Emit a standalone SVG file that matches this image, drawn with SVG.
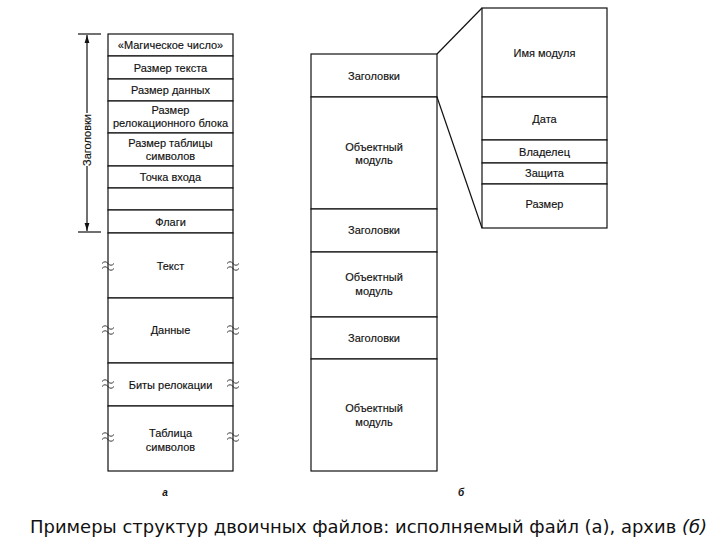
<svg xmlns="http://www.w3.org/2000/svg" width="720" height="540" viewBox="0 0 720 540">
<style>
.b{fill:#fff;stroke:#111;stroke-width:1.2}
.t{font-family:"Liberation Sans",Arial,sans-serif;font-size:11px;fill:#111;text-anchor:middle;stroke:#111;stroke-width:0.15}
.ln{stroke:#111;stroke-width:1.2;fill:none}
.w{stroke:#222;stroke-width:0.9;fill:none}
.lab{font-family:"Liberation Sans",Arial,sans-serif;font-size:10px;font-style:italic;font-weight:bold;fill:#111;text-anchor:middle}
</style>
<defs>
<marker id="ar" viewBox="0 0 10 10" refX="10" refY="5" markerWidth="8" markerHeight="8" orient="auto-start-reverse" markerUnits="userSpaceOnUse">
<path d="M0,2 L10,5 L0,8 Z" fill="#111"/>
</marker>
<path id="tl" d="M-6,-2.5 q3,-3.5 6,0 t6,0 M-6,2.5 q3,-3.5 6,0 t6,0"/>
</defs>
<rect width="720" height="540" fill="#fff"/>

<g id="exe">
<g id="a-magic"><rect class="b" x="108" y="34" width="125" height="22"/><text class="t" x="170.5" y="49">«Магическое число»</text></g>
<g id="a-textsize"><rect class="b" x="108" y="56" width="125" height="23"/><text class="t" x="170.5" y="72">Размер текста</text></g>
<g id="a-datasize"><rect class="b" x="108" y="79" width="125" height="22"/><text class="t" x="170.5" y="94">Размер данных</text></g>
<g id="a-relocsize"><rect class="b" x="108" y="101" width="125" height="32"/><text class="t" x="170.5" y="114">Размер</text><text class="t" x="170.5" y="127">релокационного блока</text></g>
<g id="a-symsize"><rect class="b" x="108" y="133" width="125" height="33"/><text class="t" x="170.5" y="147">Размер таблицы</text><text class="t" x="170.5" y="160">символов</text></g>
<g id="a-entry"><rect class="b" x="108" y="166" width="125" height="22"/><text class="t" x="170.5" y="181">Точка входа</text></g>
<g id="a-empty"><rect class="b" x="108" y="188" width="125" height="22"/></g>
<g id="a-flags"><rect class="b" x="108" y="210" width="125" height="23"/><text class="t" x="170.5" y="226">Флаги</text></g>
<g id="a-text"><rect class="b" x="108" y="233" width="125" height="65"/><text class="t" x="170.5" y="270">Текст</text></g>
<g id="a-data"><rect class="b" x="108" y="298" width="125" height="65"/><text class="t" x="170.5" y="334">Данные</text></g>
<g id="a-reloc"><rect class="b" x="108" y="363" width="125" height="43"/><text class="t" x="170.5" y="389">Биты релокации</text></g>
<g id="a-sym"><rect class="b" x="108" y="406" width="125" height="65"/><text class="t" x="170.5" y="437">Таблица</text><text class="t" x="170.5" y="451">символов</text></g>
<g id="breaks">
<use href="#tl" x="108" y="266" class="w"/><use href="#tl" x="233" y="266" class="w"/>
<use href="#tl" x="108" y="330" class="w"/><use href="#tl" x="233" y="330" class="w"/>
<use href="#tl" x="108" y="384" class="w"/><use href="#tl" x="233" y="384" class="w"/>
<use href="#tl" x="108" y="437" class="w"/><use href="#tl" x="233" y="437" class="w"/>
</g>
<g id="headers-brace">
<line class="ln" x1="78" y1="34" x2="101" y2="34"/>
<line class="ln" x1="78" y1="232" x2="101" y2="232"/>
<line class="ln" x1="87" y1="113" x2="87" y2="35" marker-end="url(#ar)"/>
<line class="ln" x1="87" y1="166" x2="87" y2="231" marker-end="url(#ar)"/>
<text class="t" transform="translate(91,140) rotate(-90)">Заголовки</text>
</g>
</g>

<g id="archive">
<g id="b-h1"><rect class="b" x="311" y="54" width="126" height="43"/><text class="t" x="374" y="80">Заголовки</text></g>
<g id="b-m1"><rect class="b" x="311" y="97" width="126" height="112"/><text class="t" x="374" y="151">Объектный</text><text class="t" x="374" y="164">модуль</text></g>
<g id="b-h2"><rect class="b" x="311" y="209" width="126" height="43"/><text class="t" x="374" y="234">Заголовки</text></g>
<g id="b-m2"><rect class="b" x="311" y="252" width="126" height="65"/><text class="t" x="374" y="281">Объектный</text><text class="t" x="374" y="295">модуль</text></g>
<g id="b-h3"><rect class="b" x="311" y="317" width="126" height="42"/><text class="t" x="374" y="342">Заголовки</text></g>
<g id="b-m3"><rect class="b" x="311" y="359" width="126" height="112"/><text class="t" x="374" y="412">Объектный</text><text class="t" x="374" y="426">модуль</text></g>
</g>

<g id="header-detail">
<g id="c-name"><rect class="b" x="482" y="8" width="125" height="89"/><text class="t" x="544.5" y="57">Имя модуля</text></g>
<g id="c-date"><rect class="b" x="482" y="97" width="125" height="43"/><text class="t" x="544.5" y="123">Дата</text></g>
<g id="c-owner"><rect class="b" x="482" y="140" width="125" height="23"/><text class="t" x="544.5" y="156">Владелец</text></g>
<g id="c-prot"><rect class="b" x="482" y="163" width="125" height="21"/><text class="t" x="544.5" y="177">Защита</text></g>
<g id="c-size"><rect class="b" x="482" y="184" width="125" height="44"/><text class="t" x="544.5" y="208">Размер</text></g>
</g>

<g id="connectors">
<line class="ln" x1="437" y1="54" x2="482" y2="8"/>
<line class="ln" x1="437" y1="97" x2="482" y2="228"/>
</g>

<text class="lab" x="165" y="496">а</text>
<text class="lab" x="461" y="496">б</text>
<text x="30" y="533" font-family="'DejaVu Sans Condensed','DejaVu Sans',sans-serif" font-size="17" fill="#111" textLength="677" lengthAdjust="spacingAndGlyphs">Примеры структур двоичных файлов: исполняемый файл (а), архив <tspan font-style="italic">(б)</tspan></text>
</svg>
